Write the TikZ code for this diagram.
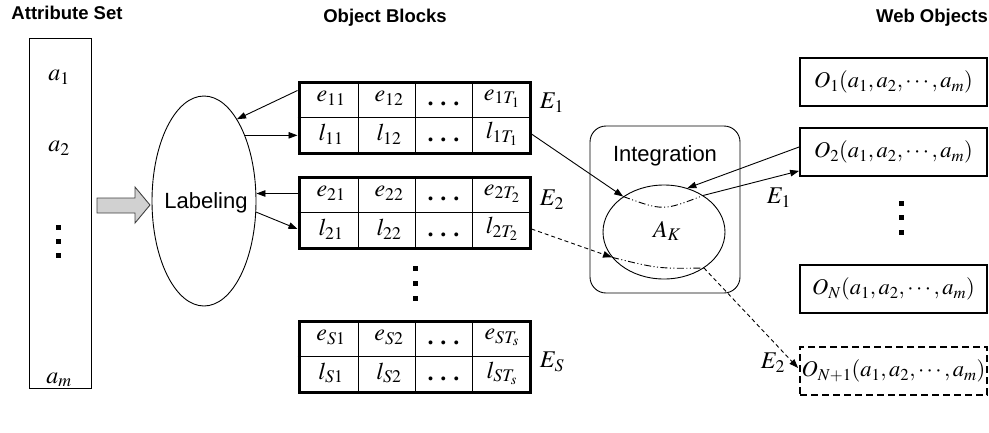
\documentclass[tikz,border=0pt]{standalone}
\usepackage{mathptmx}
\usepackage[no-math]{fontspec}
\setmainfont{Liberation Serif}
\newfontfamily\sansfam{Liberation Sans}
\usetikzlibrary{arrows.meta,shapes.geometric,calc}

\tikzset{
  every node/.style={font=\fontsize{24}{28}\selectfont, inner sep=0pt},
  objtext/.style={font=\fontsize{22.5}{26}\selectfont},
  heading/.style={font=\sansfam\bfseries\fontsize{18.5}{22}\selectfont},
  sanslabel/.style={font=\sansfam\fontsize{22}{26}\selectfont},
  thin line/.style={line width=0.9pt},
  arr/.style={thin line, -{Triangle[length=9pt,width=6.5pt]}},
  dasharr/.style={arr, dash pattern=on 4pt off 3pt},
  dashdotdot/.style={thin line, dash pattern=on 7pt off 2.5pt on 1pt off 2.5pt on 1pt off 2.5pt},
  attrbox/.style={draw, thin line, rectangle, minimum width=62pt, minimum height=350pt},
  tblbox/.style={draw, line width=3pt, rectangle, minimum width=231pt, minimum height=71pt},
  gridline/.style={line width=1pt},
  objbox/.style={draw, line width=1.8pt, rectangle, minimum width=187pt, minimum height=48pt, objtext},
  newobjbox/.style={objbox, dash pattern=on 7pt off 4pt},
  sq/.style={fill=black, minimum size=5pt, inner sep=0pt, rectangle}
}

% bold baseline dots used inside the blocks
\newcommand\celldots{{\bfseries.\kern7pt.\kern7pt.}}

% three stacked square dots
\newcommand\dotcolumn[4]{%
  \node[sq] (#1a) at (#2,#3) {};
  \node[sq] (#1b) at (#2,#3+#4) {};
  \node[sq] (#1c) at (#2,#3+2*#4) {};}

% an object block: name, top y, row index, last column subscript
\newcommand\objblock[4]{%
  \node[tblbox] (#1) at (414.5,#2+35.5) {};
  \draw[gridline] (#1.west) -- (#1.east);
  \draw[gridline] (358,#2) -- (358,#2+71);
  \draw[gridline] (415,#2) -- (415,#2+71);
  \draw[gridline] (472,#2) -- (472,#2+71);
  \node (#1e1) at (331,#2+16.5) {$e_{#3 1}$};
  \node (#1e2) at (389,#2+16.5) {$e_{#3 2}$};
  \node (#1e3) at (443.5,#2+22) {\celldots};
  \node (#1l1) at (331,#2+52) {$l_{#3 1}$};
  \node (#1e4) at (502,#2+16.5) {$e_{#3 #4}$};
  \node (#1l2) at (389,#2+52) {$l_{#3 2}$};
  \node (#1l3) at (443.5,#2+58) {\celldots};
  \node (#1l4) at (502,#2+52) {$l_{#3 #4}$};}

\begin{document}
\begin{tikzpicture}[x=1pt,y=-1pt]
\useasboundingbox (0,0) rectangle (989,432);

% headings
\node[heading] (hattr) at (67,13) {Attribute Set};
\node[heading] (hblk) at (385,18) {Object Blocks};
\node[heading] (hweb) at (932,18) {Web Objects};

% attribute set
\node[attrbox] (attr) at (60,213) {};
\node (a1) at (59,77) {$a_1$};
\node (a2) at (59,148) {$a_2$};
\dotcolumn{ad}{58}{227}{14}
\node (am) at (59,380) {$a_m$};

% block arrow into labeling
\draw[thin line, draw=black!75, fill=black!18]
  (97,198) -- (135,198) -- (135,187) -- (150,205) -- (135,223) -- (135,213) -- (97,213) -- cycle;

% labeling
\node[ellipse, draw, thin line, minimum width=104pt, minimum height=210pt] (lab) at (204,201) {};
\node[sanslabel] (labtext) at (206,203) {Labeling};

% object blocks
\objblock{ta}{82}{1}{T_1}
\objblock{tb}{177}{2}{T_2}
\dotcolumn{bd}{415}{268}{15}
\objblock{tc}{321}{S}{T_s}

\node (E1) at (552,103) {$E_1$};
\node (E2) at (552,200) {$E_2$};
\node (ES) at (552,362) {$E_S$};

% labeling <-> blocks
\draw[arr] ($(ta.north west)+(0,10)$) -- (lab.68);
\draw[arr] (lab.58) -- (lab.58 -| ta.west);
\draw[arr] (tbe1 -| tb.west) -- (lab.east |- tbe1);
\draw[arr] (lab.-12) -- (tbl1 -| tb.west);

% integration
\node[draw, thin line, rounded corners=16pt, minimum width=150pt, minimum height=167pt] (integ) at (665,209.5) {};
\node[sanslabel] (itext) at (665,156) {Integration};
\node[ellipse, draw, thin line, minimum width=122pt, minimum height=94pt] (ak) at (664,232) {};
\node (aktext) at (667,231) {$A_K$};

% web objects
\node[objbox] (o1) at (893.5,82) {$O_1(a_1,a_2,\cdots,a_m)$};
\node[objbox] (o2) at (893.5,152) {$O_2(a_1,a_2,\cdots,a_m)$};
\dotcolumn{wd}{901}{203}{14.5}
\node[objbox] (on) at (893.5,289) {$O_N(a_1,a_2,\cdots,a_m)$};
\node[newobjbox] (on1) at (893.5,371) {$O_{N+1}(a_1,a_2,\cdots,a_m)$};

\node (E1b) at (779,198) {$E_1$};
\node (E2b) at (773,363) {$E_2$};

% E1 flow
\draw[arr] (tal4 -| ta.east) -- (ak.139);
\draw[dashdotdot] (ak.139) .. controls ($(ak.139)!0.5!(ak.43)+(0,15)$) .. (ak.43);
\draw[arr] (ak.43) -- ($(o2.south west)+(0,-6)$);
\draw[arr] ($(o2.west)+(0,-5)$) -- (ak.62);

% E2 flow
\draw[dasharr] (tbl4 -| tb.east) -- (ak.206);
\draw[dashdotdot] (ak.206) .. controls ($(ak.206)!0.5!(ak.-42)+(0,6)$) .. (ak.-42);
\draw[dasharr] (ak.-42) -- ($(on1.west)+(-1,-3)$);
\end{tikzpicture}
\end{document}
